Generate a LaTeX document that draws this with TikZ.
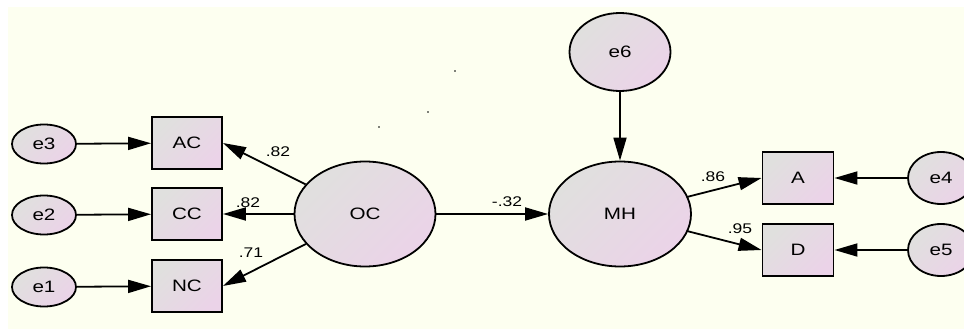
\documentclass[tikz,border=0pt]{standalone}
\usepackage{fontspec}
\setmainfont{Liberation Sans}[FakeStretch=1.25]
\usetikzlibrary{shapes.geometric,arrows.meta}

\definecolor{canvas}{HTML}{FDFFF0}
\definecolor{shadeA}{HTML}{E0E0DE}
\definecolor{shadeB}{HTML}{EBD3E8}

\tikzset{
  fillgrad/.style={top color=shadeA, bottom color=shadeB, shading angle=45},
  latent/.style={ellipse, draw=black, line width=1.8pt, fillgrad, inner sep=0pt,
                 font=\fontsize{16.5}{19}\selectfont},
  observed/.style={rectangle, draw=black, line width=1.9pt, fillgrad, inner sep=0pt,
                   minimum width=70pt, minimum height=52pt,
                   font=\fontsize{16.5}{19}\selectfont},
  errterm/.style={latent, minimum width=64pt, minimum height=39pt},
  path/.style={line width=1.8pt, -{Triangle[length=23pt,width=13pt]}},
  coef/.style={font=\fontsize{14}{16}\selectfont, inner sep=0pt},
}

\begin{document}
\begin{tikzpicture}[x=1pt, y=-1pt]
  \useasboundingbox (0,0) rectangle (964,329);
  \fill[white] (0,0) rectangle (964,329);
  \fill[canvas] (8,7) rectangle (964,329);

  % indicators of organisational commitment
  \node[observed] (AC) at (187,143) {AC};
  \node[observed] (CC) at (187,214) {CC};
  \node[observed] (NC) at (187,286) {NC};
  \node[errterm] (e3) at (44,144) {e3};
  \node[errterm] (e2) at (44,215) {e2};
  \node[errterm] (e1) at (44,287) {e1};

  % latent constructs
  \node[latent, minimum width=141pt, minimum height=105pt] (OC) at (365,214) {OC};
  \node[latent, minimum width=142pt, minimum height=105pt] (MH) at (620,214) {MH};
  \node[latent, minimum width=101pt, minimum height=78pt] (e6) at (620,52) {e6};

  % indicators of mental health
  \node[observed, minimum width=71pt] (A) at (798,178) {A};
  \node[observed, minimum width=71pt] (D) at (798,250) {D};
  \node[errterm, minimum width=66pt, minimum height=52pt] (e4) at (941,178) {e4};
  \node[errterm, minimum width=66pt, minimum height=52pt] (e5) at (941,250) {e5};

  % paths
  \draw[path] (e3) -- (AC);
  \draw[path] (e2) -- (CC);
  \draw[path] (e1) -- (NC);
  \draw[path] (OC) -- (AC.east);
  \draw[path] (OC) -- (CC.east);
  \draw[path] (OC) -- (NC.east);
  \draw[path] (OC) -- (MH);
  \draw[path] (e6) -- (MH);
  \draw[path] (MH) -- (A.west);
  \draw[path] (MH) -- (D.west);
  \draw[path] (e4) -- (A);
  \draw[path] (e5) -- (D);

  % standardised coefficients
  \node[coef] (cAC) at (278,152) {.82};
  \node[coef] (cCC) at (248,203) {.82};
  \node[coef] (cNC) at (251,253) {.71};
  \node[coef] (cMH) at (507,202) {-.32};
  \node[coef] (cA)  at (713,177) {.86};
  \node[coef] (cD)  at (740,229) {.95};

  % stray marks
  \fill (455,71) circle (0.8pt);
  \fill (428,112) circle (0.8pt);
  \fill (379,127) circle (0.8pt);
\end{tikzpicture}
\end{document}
